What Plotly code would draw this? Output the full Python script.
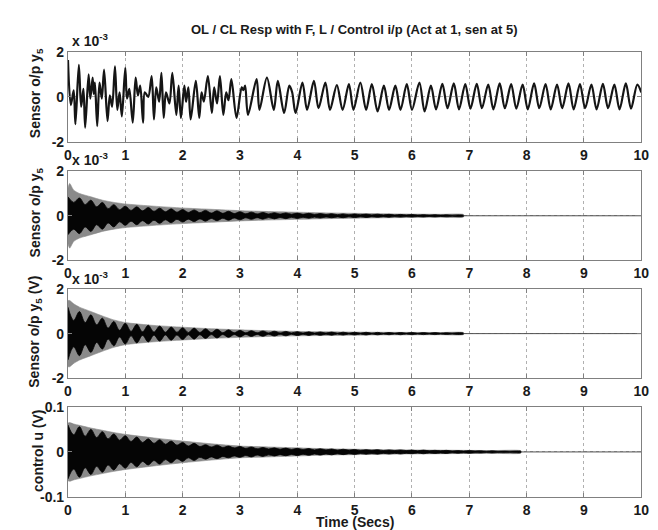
import plotly.graph_objects as go

# ---- panel 1: open loop sensor output (x 1e-3), extrema ----
t_p1 = [0.0, 0.05, 0.10, 0.13, 0.19, 0.23, 0.27, 0.30, 0.36, 0.39, 0.43, 0.45, 0.47, 0.51,
        0.55, 0.59, 0.63, 0.69, 0.73, 0.77, 0.82, 0.86, 0.90, 0.94, 1.0, 1.03, 1.07, 1.13,
        1.18, 1.22, 1.26, 1.31, 1.34, 1.40, 1.46, 1.50, 1.54, 1.59, 1.63, 1.67, 1.71, 1.77,
        1.82, 1.89, 1.93, 1.97, 2.03, 2.06, 2.10, 2.14, 2.23, 2.29, 2.33, 2.37, 2.44, 2.51,
        2.55, 2.60, 2.65, 2.71, 2.76, 2.80, 2.85, 2.94, 3.03, 3.06, 3.09, 3.14, 3.29, 3.34,
        3.47, 3.59, 3.66, 3.77, 3.86, 3.91, 3.97, 4.09, 4.17, 4.29, 4.37, 4.49, 4.57, 4.69,
        4.79, 4.90, 4.98, 5.10, 5.20, 5.30, 5.40, 5.51, 5.60, 5.71, 5.80, 5.91, 6.00, 6.13,
        6.22, 6.33, 6.42, 6.53, 6.62, 6.73, 6.82, 6.93, 7.02, 7.13, 7.22, 7.33, 7.42, 7.53,
        7.62, 7.73, 7.82, 7.93, 8.02, 8.13, 8.22, 8.33, 8.42, 8.53, 8.62, 8.73, 8.82, 8.93,
        9.02, 9.13, 9.22, 9.33, 9.42, 9.53, 9.62, 9.73, 9.82, 9.93, 10.0]
y_p1 = [1.64, -0.36, 0.29, -1.21, 1.43, -0.43, 0.36, -1.36, 1.0, -0.07, 0.86, 0.14, 0.64, -1.29,
        0.64, -0.07, 1.21, -1.07, 0.07, -0.43, 1.36, -0.57, 0.21, -0.86, 1.29, -0.07, 0.36, -1.14,
        0.86, 0.07, 0.5, -1.14, 0.21, 0.0, 0.93, -1.0, 0.43, -0.21, 1.07, -0.93, 0.21, -0.29,
        1.07, -0.79, 0.5, -0.93, 0.5, -0.21, 0.43, -1.0, 0.71, -0.93, 0.21, -0.21, 0.93, -0.71,
        0.43, -0.29, 0.93, -0.79, 0.21, -0.14, 0.79, -0.93, 0.43, 0.3, 0.5, -0.79, 0.79, -0.57,
        0.86, -0.57, 0.71, -0.71, 0.5, 0.21, -0.71, 0.64, -0.57, 0.71, -0.5, 0.64, -0.57, 0.53,
        -0.57, 0.57, -0.57, 0.64, -0.57, 0.57, -0.64, 0.5, -0.57, 0.5, -0.57, 0.57, -0.57, 0.64,
        -0.64, 0.5, -0.55, 0.58, -0.5, 0.6, -0.55, 0.57, -0.52, 0.58, -0.5, 0.55, -0.55, 0.6,
        -0.5, 0.57, -0.52, 0.55, -0.55, 0.6, -0.5, 0.57, -0.55, 0.55, -0.5, 0.6, -0.55, 0.57,
        -0.5, 0.55, -0.55, 0.58, -0.5, 0.55, -0.55, 0.6, -0.52, 0.55, 0.2]

# ---- panels 2-4: dense oscillation, envelopes ----
t_blob = [0.0, 0.2, 0.4, 0.6, 0.8, 1.0, 1.2, 1.4, 1.6, 1.8, 2.0, 2.2, 2.4, 2.6, 2.8, 3.0, 3.2,
          3.4, 3.6, 3.8, 4.0, 4.2, 4.4, 4.6, 4.8, 5.0, 5.2, 5.4, 5.6, 5.8, 6.0, 6.2, 6.4, 6.6,
          6.8, 7.0, 7.2, 7.4, 7.6, 7.8]
t_neck = [0.1, 0.3, 0.5, 0.7, 0.9, 1.1, 1.3, 1.5, 1.7, 1.9, 2.1, 2.3, 2.5, 2.7, 2.9, 3.1, 3.3,
          3.5, 3.7, 3.9, 4.1, 4.3, 4.5, 4.7, 4.9, 5.1, 5.3, 5.5, 5.7, 5.9, 6.1, 6.3, 6.5, 6.7,
          6.9, 7.1, 7.3, 7.5, 7.7, 7.9]
t_env = [0.0, 0.03, 0.1, 0.2, 0.4, 0.6, 0.8, 1.0, 1.5, 2.0, 2.5, 3.0, 3.5, 4.0, 4.5, 5.0,
         5.5, 6.0, 6.5, 6.9, 7.4, 7.9]

# closed loop sensor output (x 1e-3)
p2_blob = [0.85, 0.8, 0.7, 0.6, 0.5, 0.43, 0.4, 0.37, 0.34, 0.31, 0.28, 0.26, 0.24, 0.22, 0.2,
           0.18, 0.16, 0.15, 0.14, 0.13, 0.12, 0.11, 0.1, 0.09, 0.085, 0.08, 0.075, 0.07, 0.065,
           0.06, 0.055, 0.05, 0.05, 0.045, 0.04]
p2_neck = [0.6, 0.5, 0.4, 0.32, 0.27, 0.24, 0.22, 0.2, 0.18, 0.16, 0.15, 0.14, 0.12, 0.11, 0.1,
           0.09, 0.085, 0.08, 0.075, 0.07, 0.065, 0.06, 0.055, 0.05, 0.045, 0.045, 0.04, 0.04,
           0.035, 0.035, 0.03, 0.03, 0.03, 0.025, 0.02]
p2_gray = [1.25, 1.45, 1.15, 1.0, 0.85, 0.7, 0.6, 0.53, 0.43, 0.35, 0.29, 0.23, 0.19, 0.16,
           0.13, 0.11, 0.09, 0.075, 0.065, 0.055]

# closed loop sensor output in volts (x 1e-3)
p3_blob = [1.2, 1.0, 0.85, 0.7, 0.55, 0.47, 0.42, 0.38, 0.34, 0.3, 0.27, 0.25, 0.22, 0.2, 0.17,
           0.15, 0.13, 0.12, 0.11, 0.1, 0.09, 0.08, 0.075, 0.07, 0.065, 0.06, 0.06, 0.055, 0.05,
           0.05, 0.05, 0.045, 0.045, 0.04, 0.04]
p3_neck = [0.6, 0.5, 0.4, 0.25, 0.15, 0.1, 0.08, 0.07, 0.06, 0.06, 0.05, 0.05, 0.045, 0.04,
           0.04, 0.035, 0.035, 0.03, 0.03, 0.03, 0.025, 0.025, 0.025, 0.02, 0.02, 0.02, 0.02,
           0.02, 0.02, 0.02, 0.02, 0.02, 0.02, 0.02, 0.02]
p3_gray = [1.5, 1.5, 1.35, 1.2, 1.0, 0.8, 0.62, 0.5, 0.37, 0.29, 0.22, 0.17, 0.13, 0.1,
           0.085, 0.07, 0.06, 0.055, 0.05, 0.045]

# control input u (V)
p4_blob = [0.06, 0.056, 0.05, 0.045, 0.04, 0.036, 0.033, 0.029, 0.027, 0.024, 0.021, 0.019,
           0.016, 0.015, 0.013, 0.012, 0.011, 0.01, 0.009, 0.0085, 0.008, 0.0075, 0.007, 0.0065,
           0.006, 0.0055, 0.005, 0.005, 0.0045, 0.0045, 0.004, 0.004, 0.0035, 0.0035, 0.003,
           0.003, 0.0025, 0.0025, 0.002, 0.002]
p4_neck = [0.038, 0.035, 0.032, 0.029, 0.026, 0.023, 0.021, 0.019, 0.017, 0.015, 0.013, 0.012,
           0.011, 0.01, 0.009, 0.008, 0.007, 0.0065, 0.006, 0.0055, 0.005, 0.0045, 0.0045, 0.004,
           0.004, 0.0035, 0.0035, 0.003, 0.003, 0.003, 0.0025, 0.0025, 0.0025, 0.002, 0.002,
           0.002, 0.0015, 0.0015, 0.0015, 0.0015]
p4_gray = [0.064, 0.065, 0.062, 0.059, 0.053, 0.048, 0.043, 0.039, 0.031, 0.024, 0.018, 0.013,
           0.011, 0.009, 0.007, 0.006, 0.005, 0.0045, 0.004, 0.0035, 0.003, 0.0025]

xticks = [0, 1, 2, 3, 4, 5, 6, 7, 8, 9, 10]

W, H = 658, 530
FONT = 'Liberation Sans, Arial, sans-serif'
INK = '#1a1a1a'
FRAME = '#808080'

# plot areas in pixels (top, bottom), shared left/right
L, R = 57, 641
rows = [(37, 130), (160, 252), (282, 373), (403, 496)]


def band(t, v):
    return list(t) + list(t)[::-1], list(v) + [-a for a in v][::-1]


def interleave(blob, neck):
    n = len(blob)
    pts = sorted(zip(t_blob[:n] + t_neck[:n], blob + neck))
    return [p[0] for p in pts], [p[1] for p in pts]


fig = go.Figure()

fig.add_trace(go.Scatter(x=t_p1, y=y_p1, mode='lines',
                         line=dict(color='#151515', width=2.2, shape='spline', smoothing=0.9),
                         xaxis='x', yaxis='y', hoverinfo='skip'))

panels = [(p2_blob, p2_neck, p2_gray, '2'), (p3_blob, p3_neck, p3_gray, '3'),
          (p4_blob, p4_neck, p4_gray, '4')]
for blob, neck, gray, k in panels:
    gx, gy = band(t_env[:len(gray)], gray)
    fig.add_trace(go.Scatter(x=gx, y=gy, mode='lines', fill='toself', fillcolor='#8a8a8a',
                             line=dict(color='#8a8a8a', width=0.6, shape='spline', smoothing=0.6),
                             xaxis='x' + k, yaxis='y' + k, hoverinfo='skip'))
    bt, bv = interleave(blob, neck)
    bx, by = band(bt, bv)
    fig.add_trace(go.Scatter(x=bx, y=by, mode='lines', fill='toself', fillcolor='#050505',
                             line=dict(color='#050505', width=0.8, shape='spline', smoothing=1.0),
                             xaxis='x' + k, yaxis='y' + k, hoverinfo='skip'))
    t_end = t_env[len(gray) - 1]
    fig.add_trace(go.Scatter(x=[t_end, 10.0], y=[0, 0], mode='lines',
                             line=dict(color='#505050', width=1),
                             xaxis='x' + k, yaxis='y' + k, hoverinfo='skip'))

tickfont = dict(family=FONT, size=14, color=INK, weight='bold')
axis_common = dict(showline=True, mirror='ticks', linecolor=FRAME, linewidth=1,
                   ticks='inside', ticklen=4, tickcolor=FRAME, tickwidth=1,
                   showgrid=True, gridcolor='#b0b0b0', griddash='dot', gridwidth=1,
                   zeroline=False, tickfont=tickfont, fixedrange=True)

layout = dict(width=W, height=H, margin=dict(l=0, r=0, t=0, b=0),
              paper_bgcolor='white', plot_bgcolor='white', showlegend=False)

for i, (top, bot) in enumerate(rows):
    sfx = '' if i == 0 else str(i + 1)
    ydom = [1 - bot / H, 1 - top / H]
    layout['xaxis' + sfx] = dict(axis_common, domain=[L / W, R / W], range=[0, 10],
                                 tickvals=xticks, anchor='y' + sfx)
    if i < 3:
        yr, yt, ytt = [-2, 2], [-2, 0, 2], ['-2', '0', '2']
    else:
        yr, yt, ytt = [-0.1, 0.1], [-0.1, 0, 0.1], ['-0.1', '0', '0.1']
    layout['yaxis' + sfx] = dict(axis_common, domain=ydom, range=yr, tickvals=yt,
                                 ticktext=ytt, anchor='x' + sfx)

fig.update_layout(**layout)

ann_font = dict(family=FONT, size=14, color=INK, weight='bold')
notes = [
    dict(text='OL / CL Resp with F, L / Control i/p (Act at 1, sen at 5)', x=349 / W,
         y=1 - 14 / H, xanchor='center', yanchor='middle',
         font=dict(family=FONT, size=13, color=INK, weight='bold')),
    dict(text='Time (Secs)', x=349 / W, y=1 - 522 / H, xanchor='center', yanchor='middle',
         font=ann_font),
    dict(text='Sensor o/p y<sub>5</sub>', x=24 / W, y=1 - 80 / H, textangle=-90,
         xanchor='center', yanchor='middle', font=ann_font),
    dict(text='Sensor o/p y<sub>5</sub>', x=24 / W, y=1 - 203 / H, textangle=-90,
         xanchor='center', yanchor='middle', font=ann_font),
    dict(text='Sensor o/p y<sub>5</sub> (V)', x=24 / W, y=1 - 326 / H, textangle=-90,
         xanchor='center', yanchor='middle', font=ann_font),
    dict(text='control u (V)', x=27 / W, y=1 - 449 / H, textangle=-90,
         xanchor='center', yanchor='middle', font=ann_font),
]
for top, bot in rows[:3]:
    notes.append(dict(text='x 10<sup>-3</sup>', x=59 / W, y=1 - (top - 1) / H,
                      xanchor='left', yanchor='bottom', font=ann_font))
for a in notes:
    a.update(xref='paper', yref='paper', showarrow=False)
fig.update_layout(annotations=notes)

fig.write_html("out.html")
